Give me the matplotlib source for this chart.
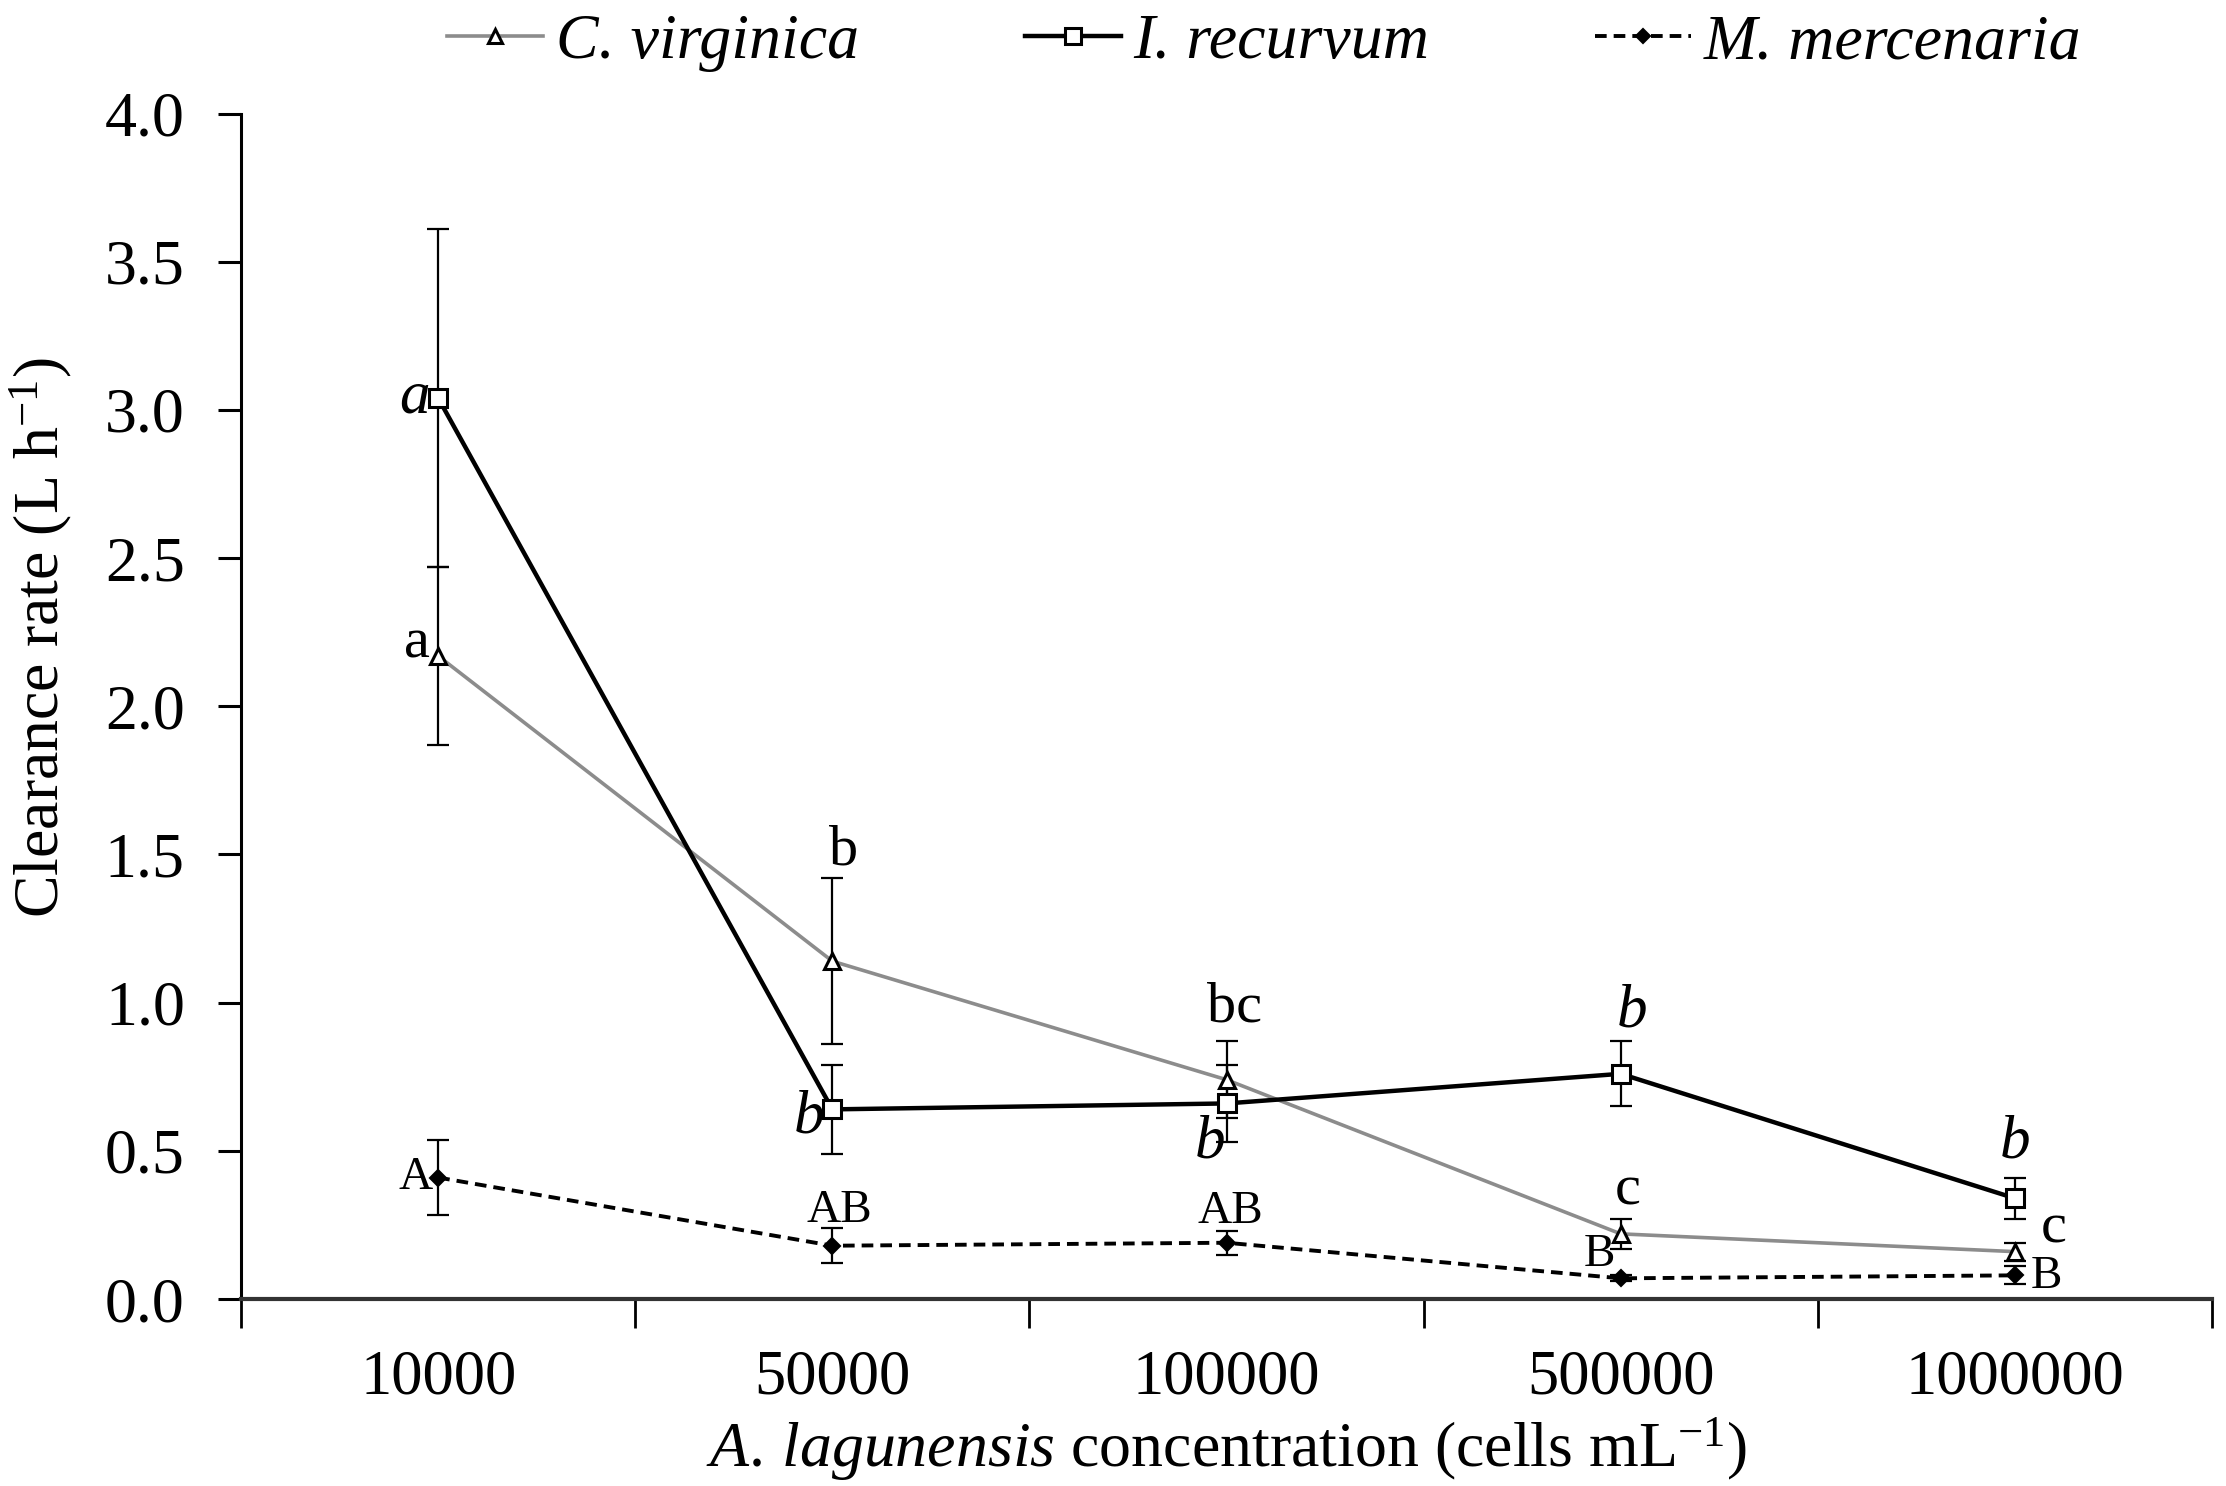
import matplotlib
matplotlib.use("Agg")
import matplotlib.pyplot as plt
import numpy as np

plt.rcParams['font.family'] = ['Liberation Serif', 'DejaVu Serif']
plt.rcParams['mathtext.fontset'] = 'custom'
plt.rcParams['mathtext.rm'] = 'Liberation Serif'
plt.rcParams['mathtext.it'] = 'Liberation Serif:italic'

categories = ["10000", "50000", "100000", "500000", "1000000"]
cv_mean = [2.17, 1.14, 0.74, 0.22, 0.16]
cv_err = [0.30, 0.28, 0.13, 0.05, 0.03]
ir_mean = [3.04, 0.64, 0.66, 0.76, 0.34]
ir_err = [0.57, 0.15, 0.13, 0.11, 0.07]
mm_mean = [0.41, 0.18, 0.19, 0.07, 0.08]
mm_err = [0.125, 0.06, 0.04, 0.01, 0.03]

cv_letters = ["a", "b", "bc", "c", "c"]
ir_letters = ["a", "b", "b", "b", "b"]
mm_letters = ["A", "AB", "AB", "B", "B"]

# offsets (points) and alignment for letters
cv_off = [(-6, 9, 'right'), (8, 80, 'center'), (6, 52, 'center'), (5, 31, 'center'), (28, 17, 'center')]
ir_off = [(-6, 0, 'right'), (-6, -6, 'right'), (-12, -28, 'center'), (8, 45, 'center'), (0, 40, 'center')]
mm_off = [(-4, 0, 'right'), (5, 25, 'center'), (3, 22, 'center'), (-15, 17, 'center'), (23, -1, 'center')]

FS = 46
fig = plt.figure(figsize=(22.26, 14.86), dpi=100)
ax = fig.add_axes([0.1083, 0.1258, 0.8854, 0.7978])

x = np.arange(len(categories))
grey = '#8c8c8c'

# error bars
for m, e in [(cv_mean, cv_err), (ir_mean, ir_err), (mm_mean, mm_err)]:
    ax.errorbar(x, m, yerr=e, fmt='none', ecolor='black', elinewidth=1.6, capsize=8, capthick=1.6, zorder=2)

l_cv, = ax.plot(x, cv_mean, color=grey, lw=2.6, marker='^', ms=11, mfc='white', mec='black', mew=2.2, zorder=3,
                label='C. virginica')
l_ir, = ax.plot(x, ir_mean, color='black', lw=3.2, marker='s', ms=13, mfc='white', mec='black', mew=2.2, zorder=4,
                label='I. recurvum')
l_mm, = ax.plot(x, mm_mean, color='black', lw=2.8, ls=(0, (3, 1.8)), marker='D', ms=8, mfc='black', mec='black',
                mew=1.5, zorder=3, label='M. mercenaria')

def put(vals, letters, offs, italic, size):
    for xi, v, t, (dx, dy, ha) in zip(x, vals, letters, offs):
        ax.annotate(t, (xi, v), xytext=(dx, dy), textcoords='offset points', ha=ha, va='center',
                    fontsize=size, style='italic' if italic else 'normal', zorder=6)

put(cv_mean, cv_letters, cv_off, False, 42)
put(ir_mean, ir_letters, ir_off, True, 44)
put(mm_mean, mm_letters, mm_off, False, 34)

ax.set_xlim(-0.5, len(categories) - 0.5)
ax.set_ylim(0, 4.0)
yt = np.arange(0, 4.01, 0.5)
ax.set_yticks(yt)
ax.set_yticklabels([f"{v:.1f}" for v in yt])
ax.set_xticks(x)
ax.set_xticklabels(categories)
ax.set_xticks(np.arange(-0.5, len(categories), 1.0), minor=True)

for s in ['top', 'right']:
    ax.spines[s].set_visible(False)
ax.spines['left'].set_linewidth(2.2)
ax.spines['bottom'].set_linewidth(3.0)
ax.spines['bottom'].set_color('#333333')

ax.tick_params(axis='y', direction='out', length=16.5, width=2.2, pad=24, labelsize=FS)
ax.tick_params(axis='x', which='major', length=0, pad=36, labelsize=45)
ax.tick_params(axis='x', which='minor', direction='out', length=21, width=2.0)

ax.set_xlabel(r"$\mathit{A.\,lagunensis}$ concentration (cells mL$^{-1}$)", fontsize=FS, labelpad=6)
ax.set_ylabel(r"Clearance rate (L h$^{-1}$)", fontsize=46)
ax.yaxis.set_label_coords(-0.085, 0.558)

fig.legend(handles=[l_cv, l_ir, l_mm], loc='center', bbox_to_anchor=(0.568, 0.971), ncol=3, frameon=False,
           prop={'family': 'Liberation Serif', 'style': 'italic', 'size': FS}, handlelength=1.5,
           handletextpad=0.2, columnspacing=2.6, numpoints=1, markerscale=0.9)

fig.savefig("out.png", dpi=100)
